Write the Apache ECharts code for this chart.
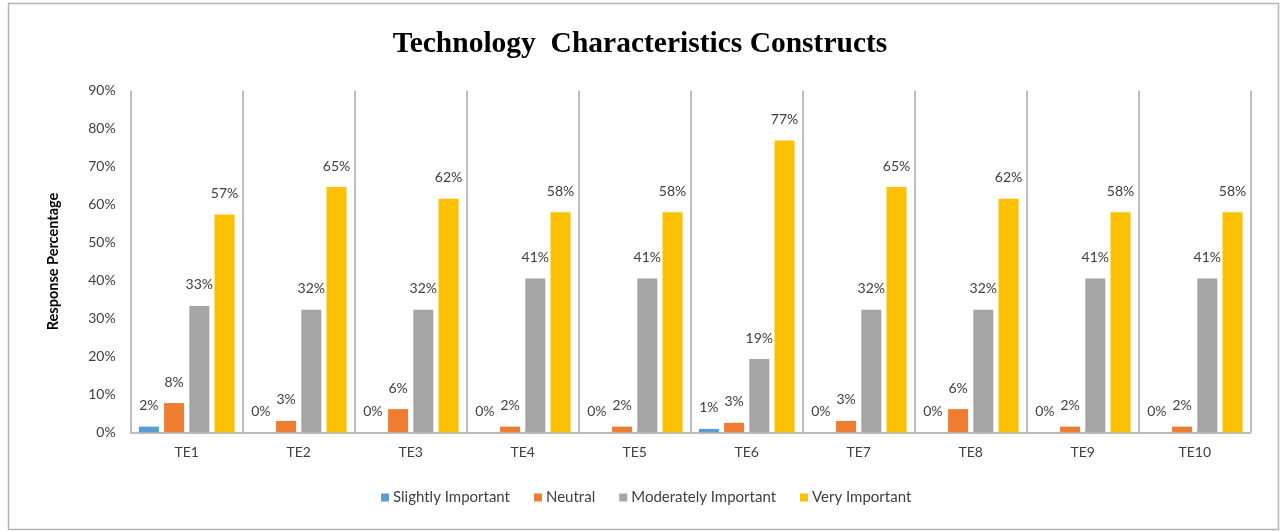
<!DOCTYPE html>
<html>
<head>
<meta charset="utf-8">
<title>Technology Characteristics Constructs</title>
<script src="https://cdn.jsdelivr.net/npm/echarts@6/dist/echarts.min.js"></script>
<style>
  html, body { margin: 0; padding: 0; background: #ffffff; }
  #chart { width: 1280px; height: 531px; }
</style>
</head>
<body>
<div id="chart"></div>
<script>
// Constructs on the x axis
const categories = ['TE1', 'TE2', 'TE3', 'TE4', 'TE5', 'TE6', 'TE7', 'TE8', 'TE9', 'TE10'];

// Response percentages per importance level
const slightlyImportant   = [1.5, 0, 0, 0, 0, 0.9, 0, 0, 0, 0];
const neutral             = [7.7, 3.0, 6.1, 1.5, 1.5, 2.5, 3.0, 6.1, 1.5, 1.5];
const moderatelyImportant = [33.3, 32.3, 32.3, 40.5, 40.5, 19.3, 32.3, 32.3, 40.5, 40.5];
const veryImportant       = [57.4, 64.6, 61.5, 58.0, 58.0, 76.9, 64.6, 61.5, 58.0, 58.0];

const seriesNames = ['Slightly Important', 'Neutral', 'Moderately Important', 'Very Important'];
const seriesColors = ['#5B9BD5', '#ED7D31', '#A5A5A5', '#FFC000'];
const seriesData = [slightlyImportant, neutral, moderatelyImportant, veryImportant];

// Y axis ticks (percent)
const yMin = 0, yMax = 90, yStep = 10;

const FONT = 'Lato, "Open Sans", sans-serif';
const TEXT = '#404040';

const chart = echarts.init(document.getElementById('chart'), null, { renderer: 'canvas' });

const series = seriesNames.map((name, i) => ({
  name: name,
  type: 'bar',
  data: seriesData[i],
  barWidth: 20,
  barGap: '26%',
  itemStyle: { color: seriesColors[i] },
  label: {
    show: true,
    position: 'top',
    distance: 14,
    color: TEXT,
    fontFamily: FONT,
    fontSize: 14,
    formatter: p => Math.round(p.value) + '%'
  }
}));

chart.setOption({
  backgroundColor: '#ffffff',
  animation: false,
  title: {
    text: 'Technology  Characteristics Constructs',
    left: 'center',
    top: 24,
    textStyle: {
      fontFamily: '"Liberation Serif", "DejaVu Serif", serif',
      fontWeight: 'bold',
      fontSize: 29.5,
      color: '#000000'
    }
  },
  graphic: [{
    type: 'rect',
    silent: true,
    z: -10,
    shape: { x: 8.5, y: 3.5, width: 1270, height: 526 },
    style: { fill: 'none', stroke: '#b4b4b4', lineWidth: 1.5 }
  }],
  legend: {
    data: seriesNames,
    bottom: 21,
    left: 376,
    itemWidth: 8,
    itemHeight: 8,
    itemGap: 24,
    icon: 'rect',
    textStyle: { fontFamily: FONT, fontSize: 15, color: TEXT, padding: [0, 0, 0, -1] }
  },
  grid: {
    left: 130.7,
    right: 29.3,
    top: 90.7,
    bottom: 98.7,
    containLabel: false
  },
  xAxis: {
    type: 'category',
    data: categories,
    boundaryGap: true,
    axisLine: { show: true, lineStyle: { color: '#a6a6a6', width: 1.5 } },
    axisTick: { show: false },
    axisLabel: { color: TEXT, fontFamily: FONT, fontSize: 14, margin: 13 },
    splitLine: {
      show: true,
      showMinLine: true,
      showMaxLine: true,
      lineStyle: { color: '#a6a6a6', width: 1.5 }
    }
  },
  yAxis: {
    type: 'value',
    min: yMin,
    max: yMax,
    interval: yStep,
    name: 'Response Percentage',
    nameLocation: 'middle',
    nameGap: 70,
    nameTextStyle: { fontFamily: FONT, fontWeight: 'bold', fontSize: 14.5, color: '#000000' },
    axisLine: { show: false },
    axisTick: { show: false },
    splitLine: { show: false },
    axisLabel: {
      color: TEXT,
      fontFamily: FONT,
      fontSize: 14,
      margin: 15,
      formatter: v => v + '%'
    }
  },
  series: series
});
</script>
</body>
</html>
